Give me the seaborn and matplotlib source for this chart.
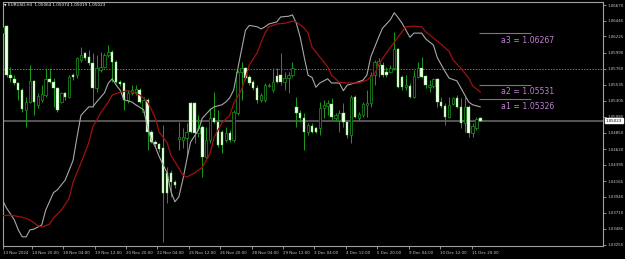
import numpy as np
import matplotlib
matplotlib.use("Agg")
import matplotlib.pyplot as plt
import seaborn as sns

# ---------------- data ----------------
symbol = "EURUSD,H4"
opens = [1.0627,1.0637,1.0567,1.0562,1.0556,1.0546,1.0518,1.0529,1.0559,1.0525,
         1.0532,1.0539,1.0562,1.0557,1.0549,1.0529,1.0542,1.0536,1.0567,1.0567,
         1.0589,1.0599,1.0593,1.0584,1.0549,1.0575,1.0579,1.0596,1.0600,1.0586,
         1.0557,1.0556,1.0532,1.0542,1.0543,1.0546,1.0515,1.0532,1.0486,1.0472,
         1.0469,1.0463,1.0428,1.0428,1.0415,1.0476,1.0475,1.0478,1.0527,1.0527,
         1.0485,1.0493,1.0451,1.0475,1.0506,1.0500,1.0486,1.0475,1.0485,1.0475,
         1.0513,1.0572,1.0577,1.0564,1.0557,1.0549,1.0532,1.0532,1.0552,1.0546,
         1.0566,1.0567,1.0557,1.0563,1.0567,1.0522,1.0513,1.0506,1.0486,1.0495,
         1.0492,1.0492,1.0520,1.0523,1.0526,1.0506,1.0503,1.0513,1.0500,1.0482,
         1.0536,1.0506,1.0510,1.0525,1.0527,1.0567,1.0582,1.0582,1.0572,1.0572,
         1.0577,1.0604,1.0564,1.0550,1.0552,1.0536,1.0564,1.0577,1.0566,1.0550,
         1.0552,1.0562,1.0529,1.0523,1.0508,1.0526,1.0535,1.0522,1.0499,1.0522,
         1.0485,1.0492,1.05064]
highs = [1.0654,1.0638,1.0579,1.0567,1.0557,1.0549,1.0536,1.0582,1.0560,1.0542,
         1.0553,1.0577,1.0577,1.0563,1.0550,1.0543,1.0543,1.0567,1.0570,1.0593,
         1.0607,1.0600,1.0603,1.0599,1.0596,1.0600,1.0599,1.0610,1.0603,1.0589,
         1.0560,1.0557,1.0546,1.0553,1.0553,1.0549,1.0536,1.0535,1.0489,1.0475,
         1.0471,1.0496,1.0436,1.0432,1.0418,1.0500,1.0492,1.0499,1.0529,1.0529,
         1.0510,1.0496,1.0493,1.0520,1.0543,1.0518,1.0489,1.0493,1.0489,1.0518,
         1.0575,1.0586,1.0579,1.0567,1.0560,1.0553,1.0542,1.0556,1.0556,1.0577,
         1.0577,1.0599,1.0572,1.0572,1.0586,1.0536,1.0518,1.0513,1.0499,1.0499,
         1.0493,1.0529,1.0532,1.0532,1.0535,1.0513,1.0518,1.0527,1.0503,1.0539,
         1.0539,1.0515,1.0529,1.0546,1.0572,1.0589,1.0592,1.0586,1.0579,1.0582,
         1.0629,1.0606,1.0567,1.0567,1.0556,1.0575,1.0586,1.0593,1.0567,1.0560,
         1.0563,1.0563,1.0536,1.0527,1.0536,1.0536,1.0539,1.0535,1.0536,1.0525,
         1.0499,1.0508,1.05074]
lows = [1.0621,1.0564,1.0557,1.0553,1.0532,1.0515,1.0493,1.0527,1.0510,1.0520,
        1.0529,1.0536,1.0556,1.0522,1.0515,1.0527,1.0532,1.0535,1.0560,1.0563,
        1.0586,1.0589,1.0582,1.0522,1.0543,1.0572,1.0577,1.0593,1.0557,1.0556,
        1.0552,1.0518,1.0527,1.0539,1.0539,1.0527,1.0513,1.0461,1.0471,1.0465,
        1.0458,1.0330,1.0385,1.0394,1.0407,1.0461,1.0463,1.0451,1.0485,1.0471,
        1.0479,1.0422,1.0449,1.0471,1.0499,1.0465,1.0456,1.0472,1.0472,1.0472,
        1.0510,1.0532,1.0560,1.0553,1.0546,1.0527,1.0529,1.0529,1.0550,1.0543,
        1.0556,1.0553,1.0546,1.0542,1.0564,1.0493,1.0500,1.0461,1.0482,1.0485,
        1.0485,1.0482,1.0506,1.0510,1.0503,1.0503,1.0486,1.0493,1.0478,1.0471,
        1.0506,1.0503,1.0508,1.0508,1.0522,1.0553,1.0564,1.0564,1.0564,1.0570,
        1.0575,1.0549,1.0546,1.0546,1.0535,1.0535,1.0563,1.0563,1.0549,1.0543,
        1.0549,1.0522,1.0520,1.0496,1.0506,1.0525,1.0520,1.0492,1.0486,1.0479,
        1.0479,1.0489,1.05019]
closes = [1.0636,1.0567,1.0563,1.0556,1.0546,1.0519,1.0529,1.0559,1.0529,1.0537,
          1.0540,1.0562,1.0557,1.0549,1.0518,1.0542,1.0536,1.0564,1.0564,1.0592,
          1.0596,1.0592,1.0584,1.0549,1.0577,1.0579,1.0596,1.0600,1.0586,1.0557,
          1.0555,1.0532,1.0542,1.0546,1.0547,1.0529,1.0532,1.0486,1.0472,1.0469,
          1.0462,1.0400,1.0400,1.0415,1.0411,1.0479,1.0479,1.0486,1.0486,1.0485,
          1.0492,1.0451,1.0475,1.0506,1.0500,1.0468,1.0468,1.0485,1.0475,1.0515,
          1.0572,1.0577,1.0563,1.0556,1.0549,1.0532,1.0539,1.0553,1.0553,1.0557,
          1.0557,1.0557,1.0563,1.0567,1.0577,1.0513,1.0506,1.0486,1.0496,1.0486,
          1.0486,1.0520,1.0525,1.0527,1.0508,1.0510,1.0513,1.0500,1.0482,1.0536,
          1.0508,1.0512,1.0526,1.0527,1.0567,1.0586,1.0587,1.0567,1.0567,1.0577,
          1.0604,1.0550,1.0550,1.0553,1.0536,1.0566,1.0577,1.0564,1.0553,1.0553,
          1.0562,1.0529,1.0523,1.0508,1.0525,1.0535,1.0522,1.0499,1.0522,1.0485,
          1.0495,1.0505,1.05023]

gray_bar = [0,1,3,4,5,6,7,8,10,11,13,14,16,18,19,20,22,23,24,26,27,28,29,30,31,33,34,36,37,38,
            39,40,42,43,44,45,46,47,48,50,51,53,54,56,57,58,59,60,61,62,63,65,66,67,68,70,71,73,74,75,
            76,77,78,79,80,81,83,84,86,87,88,90,92,93,94,96,97,99,100,101,102,104,105,107,108,110,111,113,114,116,
            117,118,119,120,122]
gray_val = [1.0389,1.0378,1.0361,1.0347,1.0337,1.0337,1.0347,1.0348,1.0354,1.0375,1.0400,1.0404,1.0418,1.0446,1.0479,
            1.0510,1.0522,1.0522,1.0529,1.0542,1.0556,1.0562,1.0553,1.0546,1.0532,1.0529,1.0525,1.0518,1.0493,1.0475,
            1.0465,1.0451,1.0428,1.0401,1.0387,1.0394,1.0418,1.0446,1.0472,1.0489,1.0506,1.0518,1.0522,1.0525,1.0529,
            1.0535,1.0546,1.0575,1.0603,1.0631,1.0638,1.0636,1.0633,1.0636,1.0640,1.0643,1.0650,1.0651,1.0653,1.0641,
            1.0621,1.0593,1.0567,1.0564,1.0550,1.0556,1.0562,1.0556,1.0556,1.0545,1.0553,1.0556,1.0560,1.0567,1.0593,
            1.0621,1.0634,1.0646,1.0656,1.0649,1.0641,1.0621,1.0627,1.0627,1.0619,1.0610,1.0592,1.0572,1.0563,1.0559,
            1.0549,1.0539,1.0529,1.0525,1.0522]
red_bar = [0,2,5,7,8,9,10,12,13,15,17,18,20,22,23,25,27,28,30,32,33,35,37,38,39,40,42,43,45,46,
           47,49,51,53,54,56,58,59,61,62,63,65,66,67,68,70,72,74,75,77,78,79,81,83,84,86,88,90,91,93,
           95,96,98,100,102,103,105,107,108,110,112,114,115,117,119,120,122]
red_val = [1.0367,1.0368,1.0365,1.0361,1.0357,1.0353,1.0351,1.0355,1.0364,1.0375,1.0392,1.0415,1.0442,1.0471,1.0493,
           1.0513,1.0529,1.0539,1.0543,1.0545,1.0543,1.0539,1.0529,1.0518,1.0506,1.0486,1.0471,1.0453,1.0435,1.0425,
           1.0422,1.0428,1.0436,1.0456,1.0479,1.0499,1.0510,1.0527,1.0546,1.0564,1.0582,1.0599,1.0614,1.0627,1.0636,
           1.0640,1.0641,1.0644,1.0643,1.0634,1.0627,1.0607,1.0593,1.0579,1.0567,1.0557,1.0556,1.0556,1.0556,1.0560,
           1.0569,1.0582,1.0599,1.0614,1.0629,1.0636,1.0637,1.0636,1.0629,1.0620,1.0611,1.0601,1.0589,1.0577,1.0563,
           1.0552,1.0543]

level_names = ["a1", "a2", "a3"]
level_values = [1.05326, 1.05531, 1.06267]
dotted_level = 1.0576

ytick_vals = [1.06670, 1.06445, 1.06225, 1.05990, 1.05760, 1.05535, 1.05305, 1.05080,
              1.04850, 1.04620, 1.04395, 1.04165, 1.03940, 1.03710, 1.03485, 1.03255]
xtick_labels = ["13 Nov 2024", "14 Nov 20:00", "18 Nov 04:00", "19 Nov 12:00", "20 Nov 20:00",
                "22 Nov 04:00", "25 Nov 12:00", "26 Nov 20:00", "28 Nov 04:00", "29 Nov 12:00",
                "3 Dec 04:00", "4 Dec 12:00", "5 Dec 20:00", "9 Dec 04:00", "10 Dec 12:00", "11 Dec 20:00"]

# ---------------- style ----------------
sns.set_theme(style="dark", rc={"axes.facecolor": "black", "figure.facecolor": "black"})
plt.rcParams['font.family'] = ['DejaVu Sans']

W, H = 625, 259
fig = plt.figure(figsize=(W / 100, H / 100), dpi=100, facecolor="black")
ax = fig.add_axes([3 / W, 13.5 / H, 600 / W, 244 / H])
ax.set_facecolor("black")

o = np.array(opens); h = np.array(highs); l = np.array(lows); c = np.array(closes)
idx = np.arange(len(o))
bull = c >= o
bear = ~bull

wick_col = "#1c9c1c"
ax.vlines(idx, l, h, color=wick_col, lw=0.7, zorder=2)
ax.bar(idx[bull], (c - o)[bull], bottom=o[bull], width=0.62, color="black",
       edgecolor=wick_col, linewidth=0.5, zorder=3)
ax.bar(idx[bear], (o - c)[bear], bottom=c[bear], width=0.62, color="#f4fff2",
       edgecolor="#62e04e", linewidth=0.3, zorder=3)

sns.lineplot(x=gray_bar, y=gray_val, ax=ax, color="#a8a8a8", linewidth=0.8, zorder=4)
sns.lineplot(x=red_bar, y=red_val, ax=ax, color="#a01010", linewidth=0.9, zorder=4)

# bid line and dotted level
ax.axhline(closes[-1], color="#5c5c5c", lw=1.3, zorder=1)
ax.axhline(dotted_level, color="#a0a0a0", lw=0.5, ls=(0, (2, 2)), zorder=1)

# a-levels
lv_col = "#9c5ca8"
for name, v in zip(level_names, level_values):
    ax.hlines(v, 121.6, 134.9, color=lv_col, lw=0.8, zorder=5)
    ax.annotate(f"{name} = {v:.5f}", xy=(140.8, v), xytext=(0, -1.6), textcoords="offset points",
                ha="right", va="top", fontsize=5.6, color="#c080d0", zorder=6)

# axes limits
ax.set_xlim(0.1, 153.3)
ax.set_ylim(1.03247, 1.06720)

# y axis on the right
ax.yaxis.tick_right()
ax.set_yticks(ytick_vals)
ax.set_yticklabels([f"{v:.5f}" for v in ytick_vals])
ax.tick_params(axis="y", labelsize=2.9, colors="#c8c8c8", length=2, width=0.5, pad=1.2, right=True, left=False)

# x axis
xt = [0.1] + [7.45 + 8.02 * k for k in range(len(xtick_labels) - 1)]
ax.set_xticks(xt)
ax.set_xticklabels(xtick_labels, ha="left")
ax.tick_params(axis="x", labelsize=2.9, colors="#c8c8c8", length=2, width=0.5, pad=1.8, bottom=True)
ax.set_xlabel(""); ax.set_ylabel("")
ax.grid(False)
for s in ax.spines.values():
    s.set_color("#a0a0a0")
    s.set_linewidth(0.8)

# current price box
ax.text(1.005, closes[-1], f"{closes[-1]:.5f}", transform=ax.get_yaxis_transform(),
        fontsize=2.9, color="black", va="center", ha="left", clip_on=False, zorder=7,
        bbox=dict(facecolor="white", edgecolor="white", pad=0.5))

# header
fig.text(4 / W, 1 - 5.5 / H, "▼", fontsize=2.3, color="white", va="center", ha="left")
fig.text(8.5 / W, 1 - 5.5 / H,
         f"{symbol}  {opens[-1]:.5f} {highs[-1]:.5f} {lows[-1]:.5f} {closes[-1]:.5f}",
         fontsize=3.0, color="white", va="center", ha="left")

fig.savefig("out.png", dpi=100, facecolor="black")
